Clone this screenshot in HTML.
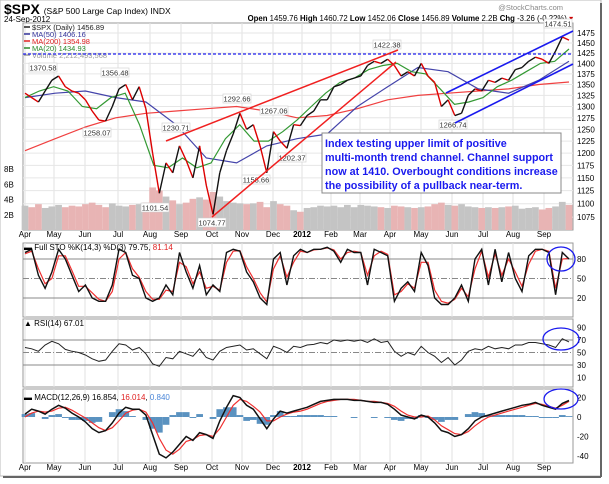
<!DOCTYPE html>
<html><head><meta charset="utf-8"><style>
body{margin:0;background:#fff;width:609px;height:479px;overflow:hidden;font-family:"Liberation Sans",sans-serif}
svg text{font-family:"Liberation Sans",sans-serif}
</style></head><body>
<svg id="c" width="609" height="479" xmlns="http://www.w3.org/2000/svg">
<rect x="0" y="0" width="601" height="476" fill="#fff" stroke="#bbb"/>
<line x1="601" y1="3" x2="601" y2="477" stroke="#666" stroke-width="2"/>
<line x1="3" y1="477" x2="601" y2="477" stroke="#666" stroke-width="2"/>
<text x="4" y="14" font-size="14" font-weight="bold">$SPX <tspan font-size="8.5" font-weight="normal">(S&amp;P 500 Large Cap Index) INDX</tspan></text>
<text x="4" y="22" font-size="8">24-Sep-2012</text>
<text x="563" y="10" font-size="7.5" fill="#888" text-anchor="end">@StockCharts.com</text>
<text x="573" y="21" font-size="7.8" text-anchor="end"><tspan font-weight="bold">Open</tspan> 1459.76 <tspan font-weight="bold">High</tspan> 1460.72 <tspan font-weight="bold">Low</tspan> 1452.06 <tspan font-weight="bold">Close</tspan> 1456.89 <tspan font-weight="bold">Volume</tspan> 2.2B <tspan font-weight="bold">Chg</tspan> -3.26 (-0.22%) <tspan fill="#c00">▾</tspan></text>
<g id="g"></g>
</svg>
<script>
const months=["Apr","May","Jun","Jul","Aug","Sep","Oct","Nov","Dec","2012","Feb","Mar","Apr","May","Jun","Jul","Aug","Sep"];
const monthX=[25,54,85,118,150,181,212,242,273,302,331,360,390,421,452,483,513,544];
const priceTicks=[1475,1450,1425,1400,1375,1350,1325,1300,1275,1250,1225,1200,1175,1150,1125,1100,1075];
const closes=[1330,1320,1310,1335,1360, 1370,1345,1335,1330, 1315,1290,1270,1268,1300, 1340,1350,1315,1345,1295, 1200,1120,1180,1160,1215, 1185,1150,1215,1135, 1080,1160,1205,1240,1285, 1250,1260,1215,1160, 1245,1225,1210,1260,1258, 1280,1290,1315,1315, 1345,1350,1360,1365, 1370,1395,1405,1400,1410, 1395,1370,1380,1370,1400, 1370,1355,1300,1315,1280, 1285,1325,1340,1335,1360, 1355,1365,1360,1385, 1390,1405,1415,1410,1400, 1430,1465,1457];
const ma200=[1205,1230,1255,1275,1285,1290,1295,1300,1290,1275,1280,1295,1315,1325,1330,1335,1340,1350,1356];
const ma50=[1320,1330,1335,1320,1310,1260,1190,1180,1215,1230,1240,1300,1345,1390,1380,1340,1330,1360,1405];
const ma20=[1320,1335,1345,1335,1300,1295,1320,1330,1260,1175,1170,1190,1170,1180,1230,1260,1225,1225,1245,1270,1300,1330,1355,1365,1385,1395,1400,1380,1375,1340,1305,1310,1320,1345,1360,1380,1400,1405,1435];
const volume=[3.2,3.0,3.4,2.9,3.1, 3.3,3.0,3.2,3.1, 3.4,3.6,3.3,3.0,3.5, 3.2,3.1,3.3,3.4,3.6, 5.6,5.2,4.4,3.9,3.4, 3.6,4.1,4.3,4.0, 5.0,4.4,3.8,3.6,3.5, 3.4,3.5,3.7,3.0, 3.8,3.4,3.2,2.6,2.4, 2.9,3.0,3.2,3.1, 3.2,3.0,3.3,3.0, 3.3,3.2,3.1,3.0,2.9, 3.2,3.1,3.0,2.9,3.0, 3.1,3.4,3.6,3.3,3.2, 3.4,3.1,3.0,2.9,3.0, 2.9,3.0,3.1,3.2, 2.8,2.9,3.0,2.7,2.9, 3.1,3.7,3.3];
const stoK=[90,95,55,35,60, 95,80,55,30, 40,20,15,15,40, 95,90,55,50,20, 15,20,40,25,90, 60,35,70,25, 40,30,90,95,92, 60,45,20,10, 80,90,40,85,95, 90,95,95,98, 92,75,95,90, 90,40,95,90,85, 15,35,45,30,90, 70,20,10,10,20, 40,15,80,95,40, 95,45,90,50, 30,85,95,95,90, 25,90,80];
const stoD=[88,92,65,42,50, 85,85,62,38, 38,28,18,15,30, 80,90,65,52,30, 18,18,32,30,75, 68,42,60,35, 38,32,75,92,93, 68,50,28,14, 65,85,52,75,92, 90,94,95,97, 94,80,90,92, 90,55,85,92,87, 25,30,42,35,75, 75,32,15,12,18, 35,22,65,92,52, 88,55,80,60, 38,72,92,95,92, 35,80,81];
const rsi=[58,56,52,62,68, 64,55,52,50, 46,40,36,38,52, 64,62,54,58,48, 32,28,42,40,52, 48,44,56,42, 38,52,58,60,62, 54,56,48,40, 60,56,50,60,58, 62,63,66,64, 70,68,70,68, 70,66,72,66,68, 52,44,50,46,60, 50,44,34,42,30, 38,52,56,54,60, 56,58,56,62, 62,66,66,64,62, 58,72,67];
const macd=[3,8,6,3,8, 12,9,4,0, -5,-12,-16,-14,-6, 4,10,8,8,2, -18,-38,-42,-36,-28, -20,-24,-16,-18, -22,-4,10,22,20, 12,8,-2,-12, -2,6,4,6,8, 10,13,16,17, 18,18,18,17, 17,16,15,15,13, 8,2,0,-2,2, 0,-6,-14,-16,-20, -18,-12,-4,0,2, 4,6,8,10, 12,13,15,12,10, 8,14,16.9];
const signal=[0,4,6,5,6, 9,10,7,3, -1,-6,-11,-14,-11, -4,4,7,8,5, -6,-22,-34,-38,-33, -25,-23,-19,-18, -20,-12,0,12,18, 16,11,5,-4, -4,0,3,5,6, 8,11,14,16, 17,18,18,18, 17,16,16,15,14, 11,6,2,0,0, 1,-3,-9,-13,-17, -18,-15,-9,-4,0, 2,4,6,8, 10,12,14,13,11, 9,12,16];

const NS="http://www.w3.org/2000/svg";
const g=document.getElementById('g');
function mk(tag,attrs,parent){const e=document.createElementNS(NS,tag);for(const k in attrs)e.setAttribute(k,attrs[k]);(parent||g).appendChild(e);return e;}
const X0=25,X1=569,PL=23,PR=573;
const xi=(i,n)=>X0+i*(X1-X0)/(n-1);
const yP=p=>33+582*Math.log(1475/p);
const yV=v=>230-v*7.6;
const yS=v=>259+(80-v)*0.65;
const yR=v=>340+(70-v)*0.625;
const yM=v=>417-v*0.975;
function path(arr,yf,color,w,name){
  const d=arr.map((v,i)=>(i?'L':'M')+xi(i,arr.length).toFixed(1)+' '+yf(v).toFixed(1)).join(' ');
  const p=mk('path',{d:d,fill:'none',stroke:color,'stroke-width':w});
  
  
  return p;
}
const panels=[[23,230],[243,317],[319,387],[389,463]];
panels.forEach((pp,k)=>{
  const r=mk('rect',{x:PL,y:pp[0],width:PR-PL,height:pp[1]-pp[0],fill:'#fff',stroke:'#999','stroke-width':1});
  
  
  monthX.forEach(mx=>mk('line',{x1:mx,x2:mx,y1:pp[0],y2:pp[1],stroke:'#e2e2e2'}));
});
[237,470].forEach((yy,row)=>months.forEach((m,i)=>{
  const t=mk('text',{x:monthX[i],y:yy,'font-size':8,'text-anchor':'middle','font-weight':m==='2012'?'bold':'normal'});
  t.textContent=m;
  
  
}));
priceTicks.forEach(p=>{
  mk('line',{x1:PL,x2:PR,y1:yP(p),y2:yP(p),stroke:'#e6e6e6'});
  const t=mk('text',{x:577,y:yP(p)+3,'font-size':8});
  t.textContent=p;
  
  
});
["2B","4B","6B","8B"].forEach((s,i)=>{
  const t=mk('text',{x:4,y:yV((i+1)*2)+3,'font-size':8});
  t.textContent=s;
  
  
});
const bw=(X1-X0)/(volume.length-1);
volume.forEach((v,i)=>{
  const up=i===0||closes[i]>=closes[i-1];
  const r=mk('rect',{x:xi(i,volume.length)-bw/2,y:yV(v),width:bw,height:230-yV(v),fill:up?'#c4c4c4':'#e8b4b4'});
  
  
});
path(ma200,yP,'#f04040',1.2,'ma200-line');
path(ma50,yP,'#4444aa',1.2,'ma50-line');
path(ma20,yP,'#339933',1.2,'ma20-line');
closes.forEach((c,i)=>{
  if(!i)return;
  const p=closes[i-1];const x=xi(i,closes.length);
  const l=mk('line',{x1:xi(i-1,closes.length),y1:yP(p),x2:x,y2:yP(c),stroke:c>=p?'#111':'#d00','stroke-width':1.4});
  
  
});
const ann=[
 ['line',{x1:PL,x2:PR,y1:54,y2:54,stroke:'#2222ee','stroke-width':1.3,'stroke-dasharray':'3,2'},'resistance-line'],
 ['line',{x1:166,y1:141,x2:398,y2:50,stroke:'#f02020','stroke-width':1.5},'upper-trendline'],
 ['line',{x1:212,y1:217,x2:396,y2:62,stroke:'#f02020','stroke-width':1.5},'lower-trendline'],
 ['line',{x1:446,y1:93,x2:573,y2:31,stroke:'#1a1aee','stroke-width':1.6},'channel-upper'],
 ['line',{x1:455,y1:123,x2:573,y2:64,stroke:'#1a1aee','stroke-width':1.6},'channel-lower'],
 ['ellipse',{cx:561,cy:259,rx:14,ry:12,fill:'none',stroke:'#1a1aee','stroke-width':1.3},'sto-circle'],
 ['ellipse',{cx:561,cy:339,rx:18,ry:11,fill:'none',stroke:'#1a1aee','stroke-width':1.3},'rsi-circle'],
 ['ellipse',{cx:561,cy:399,rx:17,ry:10,fill:'none',stroke:'#1a1aee','stroke-width':1.3},'macd-circle']];
const labels=[['1370.58',43,70],['1356.48',115,75],['1258.07',97,135],['1230.71',176,130],['1292.66',237,101],['1267.06',274,113],['1202.37',292,160],['1158.66',256,182],['1101.54',155,210],['1074.77',212,225],['1422.38',387,47],['1266.74',453,127],['1474.51',558,26]];
labels.forEach(l=>{
  mk('rect',{x:l[1]-14,y:l[2]-7,width:28,height:9,fill:'#fff',stroke:'#ccc','stroke-width':0.6});
  const t=mk('text',{x:l[1],y:l[2]+0.5,'font-size':7.5,'text-anchor':'middle',fill:'#333'});
  t.textContent=l[0];
  
  
});
const leg=[['$SPX (Daily) 1456.89','#222',30],['MA(50) 1406.16','#33339a',37],['MA(200) 1354.98','#e02020',44],['MA(20) 1434.93','#2a8a2a',51],['Volume 2,212,493,568','#999',58]];
leg.forEach(l=>{
  mk('line',{x1:24,x2:30,y1:l[2]-3,y2:l[2]-3,stroke:l[1],'stroke-width':1.5});
  const t=mk('text',{x:32,y:l[2],'font-size':7.5,fill:l[1]});
  t.textContent=l[0];
  
  
});
const bx=mk('rect',{x:322,y:133,width:239,height:60,fill:'#fff',stroke:'#888','stroke-width':1});


["Index testing upper limit of positive","multi-month trend channel. Channel support","now at 1410.   Overbought conditions increase","the possibility of a pullback near-term."].forEach((s,i)=>{
  const t=mk('text',{x:325,y:147+i*14,'font-size':10.8,'font-weight':'bold',fill:'#1a1aee'});
  t.textContent=s;
  
  
});
[[80,'solid'],[50,'dash'],[20,'solid']].forEach(r=>{
  mk('line',{x1:PL,x2:PR,y1:yS(r[0]),y2:yS(r[0]),stroke:'#888','stroke-width':1,'stroke-dasharray':r[1]==='dash'?'6,2,1,2':'none'});
  const t=mk('text',{x:577,y:yS(r[0])+3,'font-size':8});t.textContent=r[0];
  
  
});
path(stoD,yS,'#f03030',1.2,'sto-d-line');
path(stoK,yS,'#111',1.4,'sto-k-line');
const st=mk('text',{x:24,y:250,'font-size':8});
st.innerHTML='▬ Full STO %K(14,3) %D(3) 79.75, <tspan fill="#e02020">81.14</tspan>';


[[90,null],[70,'solid'],[50,'dash'],[30,'solid'],[10,null]].forEach(r=>{
  if(r[1])mk('line',{x1:PL,x2:PR,y1:yR(r[0]),y2:yR(r[0]),stroke:'#888','stroke-dasharray':r[1]==='dash'?'6,2,1,2':'none'});
  const t=mk('text',{x:577,y:yR(r[0])+3,'font-size':8});t.textContent=r[0];
  
  
});
path(rsi,yR,'#222',1,'rsi-line');
const rt=mk('text',{x:24,y:326,'font-size':8});rt.textContent='▲ RSI(14) 67.01';


const hw=(X1-X0)/(macd.length-1);
macd.forEach((m,i)=>{
  const h=m-signal[i];const y0=yM(0),y1=yM(h);
  const r=mk('rect',{x:xi(i,macd.length)-hw/2,y:Math.min(y0,y1),width:hw,height:Math.abs(y1-y0),fill:'#5a92c0'});
  
  
});
[20,0,-20,-40].forEach(v=>{
  const t=mk('text',{x:577,y:yM(v)+3,'font-size':8});t.textContent=v;
  
  
});
path(signal,yM,'#f03030',1.2,'macd-signal-line');
path(macd,yM,'#111',1.5,'macd-line');
const mt=mk('text',{x:24,y:400,'font-size':8});
mt.innerHTML='▬ MACD(12,26,9) 16.854, <tspan fill="#e02020">16.014</tspan>, <tspan fill="#4a86d8">0.840</tspan>';


ann.forEach(a=>{const e=mk(a[0],a[1]);
  
  
});
</script>
</body></html>
